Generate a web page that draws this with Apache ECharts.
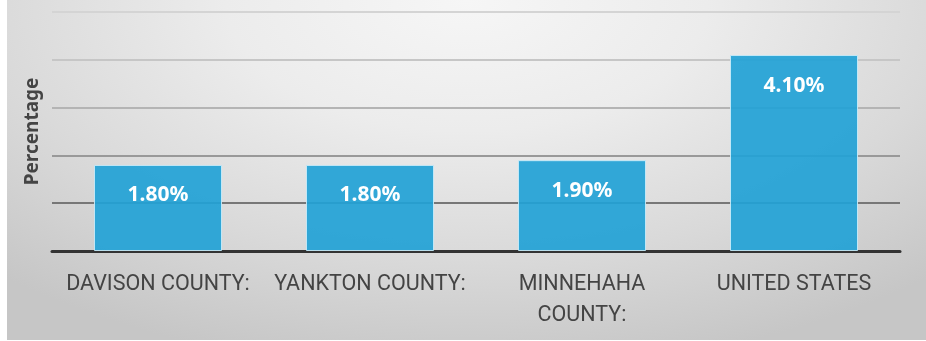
<!DOCTYPE html>
<html>
<head>
<meta charset="utf-8">
<script src="https://cdn.jsdelivr.net/npm/echarts@6/dist/echarts.min.js"></script>
<style>
  html, body { margin: 0; padding: 0; background: #ffffff; }
  #wrap { position: relative; width: 926px; height: 341px; overflow: hidden; }
  #bg {
    position: absolute; left: 7px; top: 0; width: 919px; height: 340px;
    background: radial-gradient(ellipse 75% 110% at 50% 0%, #f6f6f6 0%, #ececec 35%, #d9d9d9 70%, #c6c6c6 100%);
  }
  #chart { position: absolute; left: 0; top: 0; width: 926px; height: 341px; }
</style>
</head>
<body>
<div id="wrap">
  <div id="bg"></div>
  <div id="chart"></div>
</div>
<script>
// Unemployment rate by area (percent)
const categories = ['DAVISON COUNTY:', 'YANKTON COUNTY:', 'MINNEHAHA\nCOUNTY:', 'UNITED STATES'];
const rates = [1.8, 1.8, 1.9, 4.1];
const yTicks = [0, 1, 2, 3, 4, 5];
const axisName = 'Percentage';

const chart = echarts.init(document.getElementById('chart'), null, { renderer: 'canvas' });

chart.setOption({
  backgroundColor: 'transparent',
  animation: false,
  grid: { left: 52, right: 26, top: 12, bottom: 90, containLabel: false },
  xAxis: {
    type: 'category',
    data: categories,
    axisLine: { show: true, onZero: true, lineStyle: { color: '#333333', width: 3 } },
    axisTick: { show: false },
    axisLabel: {
      interval: 0,
      margin: 18,
      color: '#444444',
      fontFamily: 'Roboto',
      fontSize: 21.5,
      lineHeight: 31
    }
  },
  yAxis: {
    type: 'value',
    min: yTicks[0],
    max: yTicks[yTicks.length - 1],
    interval: 1,
    name: axisName,
    nameLocation: 'middle',
    nameGap: 10,
    nameRotate: 90,
    nameTextStyle: {
      color: '#444444',
      fontFamily: 'Noto Sans',
      fontWeight: 'bold',
      fontSize: 19
    },
    axisLine: { show: false },
    axisTick: { show: false },
    axisLabel: { show: false },
    splitLine: {
      show: true,
      lineStyle: {
        width: 2,
        color: ['#333333', '#777777', '#999999', '#b4b4b4', '#c6c6c6', '#d4d4d4']
      }
    }
  },
  series: [{
    type: 'bar',
    data: rates,
    barWidth: 128,
    itemStyle: {
      color: 'rgba(34, 162, 214, 0.92)',
      borderColor: 'rgba(200, 235, 248, 0.9)',
      borderWidth: 1
    },
    label: {
      show: true,
      position: 'insideTop',
      distance: 20,
      formatter: p => p.value.toFixed(2) + '%',
      color: '#ffffff',
      fontFamily: 'Noto Sans',
      fontWeight: 'bold',
      fontSize: 21
    }
  }]
});
</script>
</body>
</html>
